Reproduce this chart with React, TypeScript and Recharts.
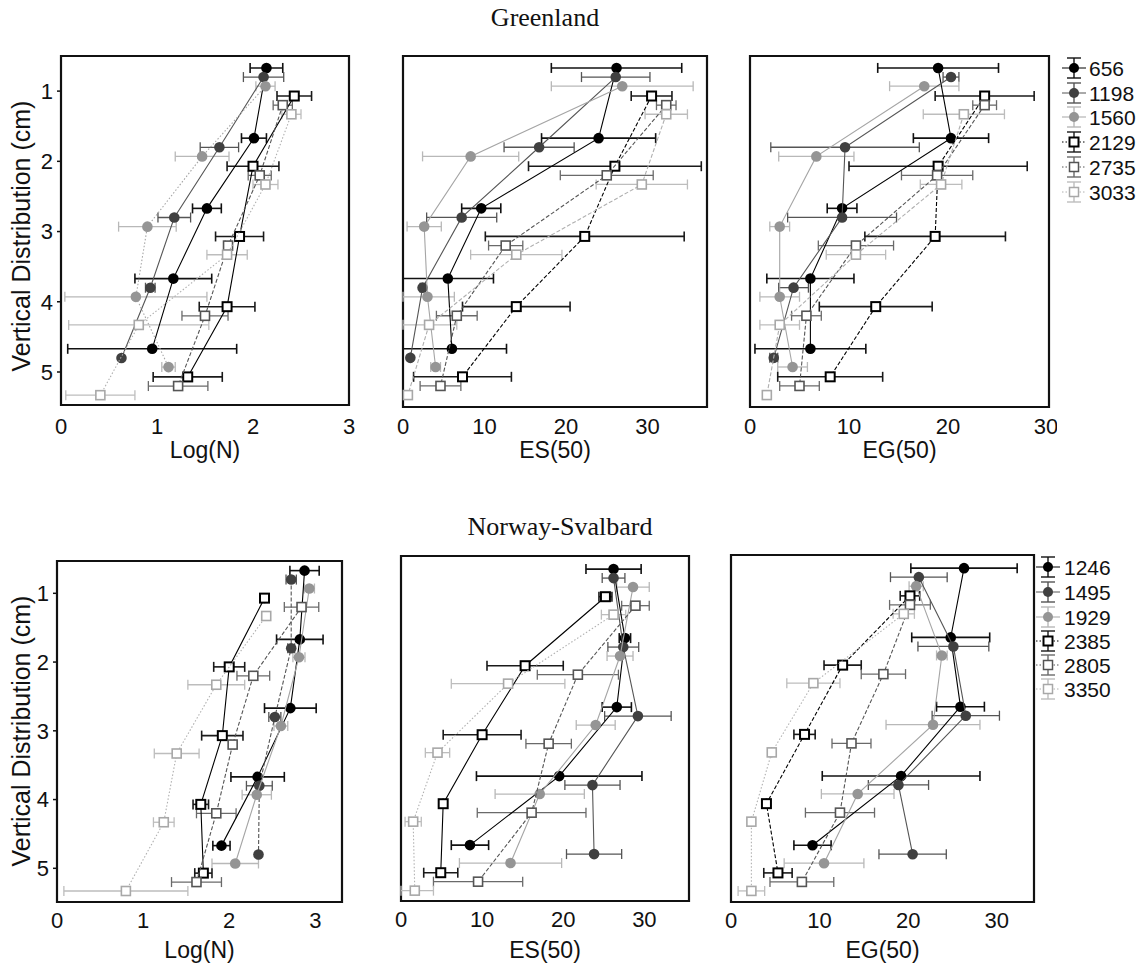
import React from "react";
import { ScatterChart, Scatter, XAxis, YAxis, ErrorBar, ReferenceArea } from "recharts";

const GREENLAND_SITES = ["656", "1198", "1560", "2129", "2735", "3033"];
const NORWAY_SITES = ["1246", "1495", "1929", "2385", "2805", "3350"];

// depth (cm) of each sample, per site in legend order
const DEPTHS = [
  [0.67, 1.67, 2.67, 3.67, 4.67],
  [0.8, 1.8, 2.8, 3.8, 4.8],
  [0.93, 1.93, 2.93, 3.93, 4.93],
  [1.07, 2.07, 3.07, 4.07, 5.07],
  [1.2, 2.2, 3.2, 4.2, 5.2],
  [1.33, 2.33, 3.33, 4.33, 5.33],
];
const DEPTH_TICKS = [1, 2, 3, 4, 5];

// Greenland
const GL_LOGN = [
  [2.14, 2.01, 1.52, 1.17, 0.95],
  [2.11, 1.65, 1.18, 0.93, 0.63],
  [2.13, 1.47, 0.9, 0.78, 1.12],
  [2.43, 2.0, 1.86, 1.73, 1.32],
  [2.31, 2.07, 1.74, 1.5, 1.22],
  [2.4, 2.13, 1.73, 0.81, 0.41],
];
const GL_LOGN_ERR = [
  [0.17, 0.13, 0.15, 0.4, 0.88],
  [0.21, 0.2, 0.17, 0.05, 0],
  [0.1, 0.28, 0.3, 0.74, 0.07],
  [0.18, 0.27, 0.25, 0.29, 0.36],
  [0.1, 0.12, 0.03, 0.24, 0.31],
  [0.1, 0.13, 0.21, 0.73, 0.36],
];
const GL_ES = [
  [26.2, 24.0, 9.6, 5.5, 6.0],
  [26.1, 16.7, 7.2, 2.4, 0.9],
  [26.9, 8.3, 2.6, 3.0, 4.0],
  [30.5, 26.0, 22.3, 13.9, 7.3],
  [32.3, 25.0, 12.6, 6.6, 4.6],
  [32.3, 29.3, 13.9, 3.2, 0.6],
];
const GL_ES_ERR = [
  [8, 7, 2.4, 5.6, 6.7],
  [4.2, 4.3, 4.3, 0.3, 0],
  [8.7, 5.9, 2.1, 3.3, 0.6],
  [2.5, 10.6, 12.2, 6.6, 6.0],
  [1.2, 5.7, 2.1, 2.5, 2.5],
  [2.6, 5.6, 5.6, 3.4, 0],
];
const GL_EG = [
  [19.0, 20.3, 9.3, 6.1, 6.1],
  [20.3, 9.6, 9.3, 4.4, 2.4],
  [17.6, 6.7, 3.0, 3.0, 4.3],
  [23.7, 19.0, 18.7, 12.7, 8.1],
  [23.7, 18.9, 10.7, 5.7, 5.0],
  [21.6, 19.3, 10.7, 3.0, 1.7],
];
const GL_EG_ERR = [
  [6.1, 3.8, 1.5, 4.4, 5.6],
  [0.8, 7.5, 5.5, 1.5, 0.4],
  [3.5, 3.8, 1.0, 2.0, 1.5],
  [5.0, 9.0, 7.1, 5.7, 5.3],
  [1.2, 3.6, 3.8, 1.5, 2.0],
  [4.1, 2.1, 3.0, 2.0, 0],
];

// Norway-Svalbard
const NS_LOGN = [
  [2.875, 2.82, 2.71, 2.33, 1.91],
  [2.72, 2.72, 2.53, 2.35, 2.34],
  [2.93, 2.81, 2.6, 2.32, 2.07],
  [2.41, 2.0, 1.92, 1.67, 1.7],
  [2.84, 2.28, 2.04, 1.85, 1.62],
  [2.43, 1.85, 1.39, 1.24, 0.8],
];
const NS_LOGN_ERR = [
  [0.17, 0.27, 0.3, 0.31, 0.1],
  [0.06, 0.04, 0.07, 0.15, 0],
  [0.06, 0.07, 0.08, 0.17, 0.27],
  [0, 0.18, 0.24, 0.09, 0.1],
  [0.2, 0.19, 0.02, 0.23, 0.29],
  [0, 0.33, 0.26, 0.12, 0.72],
];
const NS_ES = [
  [26.2, 27.6, 26.6, 19.5, 8.5],
  [26.2, 27.4, 29.2, 23.6, 23.8],
  [28.6, 27.0, 24.0, 17.1, 13.5],
  [25.2, 15.3, 10.0, 5.2, 4.9],
  [28.9, 21.8, 18.2, 16.1, 9.5],
  [26.2, 13.2, 4.5, 1.5, 1.7],
];
const NS_ES_ERR = [
  [3.4, 0.7, 1.8, 10.2, 2.3],
  [1.4, 1.9, 4.1, 3.4, 3.4],
  [2.0, 1.6, 2.4, 5.5, 6.3],
  [0.8, 4.7, 4.8, 0, 2.1],
  [1.7, 5.0, 2.8, 6.7, 5.5],
  [1.5, 7.0, 1.5, 1.0, 2.3],
];
const NS_EG = [
  [26.3, 24.8, 25.9, 19.2, 9.2],
  [21.2, 25.1, 26.5, 18.9, 20.5],
  [20.9, 23.8, 22.8, 14.3, 10.5],
  [20.2, 12.6, 8.3, 4.0, 5.3],
  [20.2, 17.2, 13.6, 12.3, 8.0],
  [19.5, 9.3, 4.6, 2.3, 2.3],
];
const NS_EG_ERR = [
  [6.0, 4.4, 2.7, 8.9, 2.1],
  [3.2, 4.0, 3.8, 3.4, 3.8],
  [0.8, 0.6, 5.3, 4.1, 4.5],
  [1.1, 2.1, 1.2, 0, 1.6],
  [2.3, 2.5, 2.2, 3.9, 3.6],
  [1.2, 3.0, 0, 0, 1.5],
];

const SANS = "'Liberation Sans', Arial, Helvetica, sans-serif";
const SERIF = "'Liberation Serif', 'Times New Roman', serif";

const FILLS = ["#000000", "#404040", "#959595", "#000000", "#555555", "#a8a8a8"];
const BAR_COLORS = ["#111111", "#555555", "#b8b8b8", "#1a1a1a", "#6a6a6a", "#bdbdbd"];
const LINE_COLORS = ["#000000", "#555555", "#a5a5a5", "#000000", "#555555", "#b0b0b0"];

const dashOf = (c: string) => (c === "d" ? "4 2" : c === "o" ? "1.5 2" : undefined);

type Box = { x0: number; x1: number; y0: number; y1: number };

interface PanelDef {
  id: string;
  values: number[][];
  errs: number[][];
  dash: string[];
  xDomain: [number, number];
  xTicks: number[];
  yDomain: [number, number];
  box: Box;
  xLabel: string;
  xLabelY: number;
  tickGap: number;
  showY: boolean;
  yLabelY?: number;
}

const PANELS: PanelDef[] = [
  {
    id: "gl-logn", values: GL_LOGN, errs: GL_LOGN_ERR, dash: ["s", "s", "o", "s", "d", "o"],
    xDomain: [0, 3], xTicks: [0, 1, 2, 3], yDomain: [0.5, 5.47],
    box: { x0: 61, x1: 349, y0: 56, y1: 405 }, xLabel: "Log(N)", xLabelY: 450, tickGap: 7,
    showY: true, yLabelY: 236,
  },
  {
    id: "gl-es", values: GL_ES, errs: GL_ES_ERR, dash: ["s", "s", "s", "d", "d", "d"],
    xDomain: [0, 37.3], xTicks: [0, 10, 20, 30], yDomain: [0.5, 5.5],
    box: { x0: 403, x1: 707, y0: 56, y1: 407 }, xLabel: "ES(50)", xLabelY: 450, tickGap: 5,
    showY: false,
  },
  {
    id: "gl-eg", values: GL_EG, errs: GL_EG_ERR, dash: ["s", "s", "s", "d", "d", "d"],
    xDomain: [0, 30.2], xTicks: [0, 10, 20, 30], yDomain: [0.5, 5.5],
    box: { x0: 750, x1: 1049, y0: 56, y1: 407 }, xLabel: "EG(50)", xLabelY: 450, tickGap: 5,
    showY: false,
  },
  {
    id: "ns-logn", values: NS_LOGN, errs: NS_LOGN_ERR, dash: ["s", "d", "s", "s", "d", "o"],
    xDomain: [0, 3.31], xTicks: [0, 1, 2, 3], yDomain: [0.53, 5.49],
    box: { x0: 57, x1: 342, y0: 561, y1: 902 }, xLabel: "Log(N)", xLabelY: 950, tickGap: 4,
    showY: true, yLabelY: 731,
  },
  {
    id: "ns-es", values: NS_ES, errs: NS_ES_ERR, dash: ["s", "s", "s", "s", "d", "o"],
    xDomain: [0, 35.5], xTicks: [0, 10, 20, 30], yDomain: [0.48, 5.48],
    box: { x0: 401, x1: 689, y0: 556, y1: 901 }, xLabel: "ES(50)", xLabelY: 950, tickGap: 4,
    showY: false,
  },
  {
    id: "ns-eg", values: NS_EG, errs: NS_EG_ERR, dash: ["s", "s", "s", "d", "d", "o"],
    xDomain: [0, 34.2], xTicks: [0, 10, 20, 30], yDomain: [0.48, 5.49],
    box: { x0: 731, x1: 1034, y0: 555, y1: 902 }, xLabel: "EG(50)", xLabelY: 950, tickGap: 4,
    showY: false,
  },
];

function buildPoints(values: number[], errs: number[], depths: number[], domain: [number, number]) {
  return values.map((v, i) => ({
    x: v,
    y: depths[i],
    ex: [Math.min(errs[i], v - domain[0]), Math.min(errs[i], domain[1] - v)],
  }));
}

function makeShape(idx: number) {
  return (p: any) => {
    if (p == null || p.cx == null) return <g />;
    if (idx < 3) return <circle cx={p.cx} cy={p.cy} r={5.3} fill={FILLS[idx]} />;
    return (
      <rect
        x={p.cx - 4.5}
        y={p.cy - 4.5}
        width={9}
        height={9}
        fill="#ffffff"
        stroke={FILLS[idx]}
        strokeWidth={idx === 3 ? 2 : 1.6}
      />
    );
  };
}

function Panel({ def }: { def: PanelDef }) {
  const yw = def.showY ? 56 : 14;
  const mt = 8;
  const mr = 8;
  const xh = 64;
  const { x0, x1, y0, y1 } = def.box;
  const width = x1 - x0 + yw + mr;
  const height = y1 - y0 + mt + xh;
  const left = x0 - yw;
  const top = y0 - mt;
  const tickStyle = { fontSize: 22, fill: "#111", fontFamily: SANS };

  const xLabel = () => (
    <text
      x={(x0 + x1) / 2 - left}
      y={def.xLabelY - top}
      textAnchor="middle"
      dominantBaseline="central"
      fontSize={23}
      fontFamily={SANS}
      fill="#111"
    >
      {def.xLabel}
    </text>
  );
  const yLabel = () => {
    const lx = 21 - left;
    const ly = (def.yLabelY ?? 0) - top;
    return (
      <text
        x={lx}
        y={ly}
        transform={`rotate(-90 ${lx} ${ly})`}
        textAnchor="middle"
        dominantBaseline="central"
        fontSize={25}
        fontFamily={SANS}
        fill="#111"
      >
        Vertical Distribution (cm)
      </text>
    );
  };

  return (
    <div style={{ position: "absolute", left, top, width, height }}>
      <ScatterChart width={width} height={height} margin={{ top: mt, right: mr, bottom: 0, left: 0 }}>
        <XAxis
          type="number"
          dataKey="x"
          domain={def.xDomain}
          ticks={def.xTicks}
          height={xh}
          axisLine={false}
          tickLine={false}
          tickSize={6}
          tickMargin={def.tickGap}
          tick={tickStyle}
          label={{ content: xLabel }}
        />
        <YAxis
          type="number"
          dataKey="y"
          reversed
          domain={def.yDomain}
          ticks={DEPTH_TICKS}
          width={yw}
          axisLine={false}
          tickLine={{ stroke: "#111", strokeWidth: 1.5 }}
          tickSize={4}
          tickMargin={4}
          tick={def.showY ? tickStyle : false}
          label={def.showY ? { content: yLabel } : undefined}
        />
        {def.values.map((vals, i) => (
          <Scatter
            key={`${def.id}-${i}`}
            data={buildPoints(vals, def.errs[i], DEPTHS[i], def.xDomain)}
            fill={FILLS[i]}
            line={{ stroke: LINE_COLORS[i], strokeWidth: 1.1, strokeDasharray: dashOf(def.dash[i]) }}
            lineType="joint"
            shape={makeShape(i)}
            isAnimationActive={false}
          >
            <ErrorBar
              dataKey="ex"
              direction="x"
              width={5}
              stroke={BAR_COLORS[i]}
              strokeWidth={i === 0 || i === 3 ? 1.6 : 1.3}
              isAnimationActive={false}
            />
          </Scatter>
        ))}
        <ReferenceArea
          x1={def.xDomain[0]}
          x2={def.xDomain[1]}
          y1={def.yDomain[0]}
          y2={def.yDomain[1]}
          fill="none"
          fillOpacity={0}
          stroke="#111"
          strokeWidth={2.2}
          ifOverflow="visible"
        />
      </ScatterChart>
    </div>
  );
}

function SiteLegend({ sites, x, y, iconX, textX, rows }: { sites: string[]; x: number; y: number; iconX: number; textX: number; rows: number[] }) {
  const dash = ["s", "s", "s", "o", "o", "o"];
  return (
    <svg style={{ position: "absolute", left: x, top: y }} width={94} height={175}>
      {sites.map((s, i) => {
        const cy = rows[i];
        const cx = iconX;
        return (
          <g key={s}>
            <line x1={cx - 12} x2={cx + 12} y1={cy} y2={cy} stroke={LINE_COLORS[i]} strokeWidth={1} strokeDasharray={dashOf(dash[i])} />
            <line x1={cx} x2={cx} y1={cy - 10} y2={cy + 10} stroke={BAR_COLORS[i]} strokeWidth={1.4} />
            <line x1={cx - 7} x2={cx + 7} y1={cy - 10} y2={cy - 10} stroke={BAR_COLORS[i]} strokeWidth={1.4} />
            <line x1={cx - 7} x2={cx + 7} y1={cy + 10} y2={cy + 10} stroke={BAR_COLORS[i]} strokeWidth={1.4} />
            {i < 3 ? (
              <circle cx={cx} cy={cy} r={5} fill={FILLS[i]} />
            ) : (
              <rect x={cx - 4.5} y={cy - 4.5} width={9} height={9} fill="#fff" stroke={FILLS[i]} strokeWidth={i === 3 ? 2 : 1.5} />
            )}
            <text x={textX} y={cy} dominantBaseline="central" fontSize={21} fontFamily={SANS} fill="#111">
              {s}
            </text>
          </g>
        );
      })}
    </svg>
  );
}

export default function App() {
  return (
    <div style={{ position: "absolute", left: 0, top: 0, width: 1144, height: 971, background: "#fff", overflow: "hidden" }}>
      <div style={{ position: "absolute", left: 445, top: 2, width: 200, textAlign: "center", fontFamily: SERIF, fontSize: 26, lineHeight: "32px", color: "#111" }}>
        Greenland
      </div>
      <div style={{ position: "absolute", left: 410, top: 511, width: 300, textAlign: "center", fontFamily: SERIF, fontSize: 26, lineHeight: "32px", color: "#111" }}>
        Norway-Svalbard
      </div>
      {PANELS.map((p) => (
        <Panel key={p.id} def={p} />
      ))}
      <SiteLegend sites={GREENLAND_SITES} x={1050} y={50} iconX={24} textX={39} rows={[18, 43, 67, 92, 117, 142]} />
      <SiteLegend sites={NORWAY_SITES} x={1022} y={550} iconX={26} textX={42} rows={[17, 42, 67, 91, 115, 139]} />
    </div>
  );
}
